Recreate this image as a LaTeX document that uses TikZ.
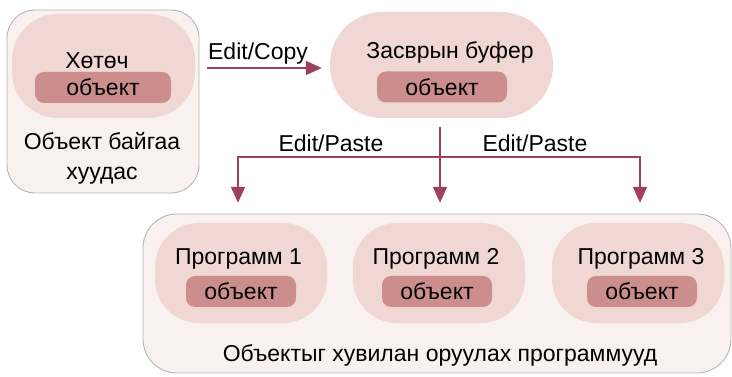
\documentclass[tikz,border=0pt]{standalone}
\usepackage{fontspec}
\setmainfont{Liberation Sans}
\usetikzlibrary{arrows.meta}

\newcommand{\lblfont}{\fontsize{23}{30}\selectfont}

\begin{document}
\begin{tikzpicture}[x=1pt, y=-1pt,
		page/.style={draw=edgecol, fill=pagecol, line width=0.9pt, rounded corners=#1, inner sep=0pt},
		blob/.style={fill=blobcol, rounded corners=#1, inner sep=0pt},
		objbar/.style={fill=barcol, rounded corners=9pt, minimum width=#1, minimum height=31pt, inner sep=0pt, font=\lblfont},
		lbl/.style={inner sep=0pt, font=\lblfont},
		flow/.style={draw=arrcol, line width=1.5pt},
		tip/.style={flow, -{Triangle[length=16pt, width=14pt]}}
		]
		
		% ==========================================
		% COLOURS
		% ==========================================
		\definecolor{pagecol}{HTML}{F8F1EF}
		\definecolor{edgecol}{HTML}{B5B5B5}
		\definecolor{blobcol}{HTML}{F0D7D3}
		\definecolor{barcol}{HTML}{CC8E8D}
		\definecolor{arrcol}{HTML}{9E3F5F}
		
		\useasboundingbox (0,0) rectangle (732,377);
		
		% ==========================================
		% SOURCE PAGE (left)
		% ==========================================
		\node[page=28pt, minimum width=192pt, minimum height=183pt] (srcpage) at (103,101.5) {};
		\node[blob=46pt, minimum width=183pt, minimum height=104pt] (srcblob) at (103.5,66) {};
		\node[lbl] (srcname) at (97,61) {Хөтөч};
		\node[objbar=136pt] (srcobj) at (103,87.5) {объект};
		\node[lbl, align=center] (srccap) at (102,158) {Объект байгаа\\хуудас};
		
		% ==========================================
		% CLIPBOARD
		% ==========================================
		\node[blob=52pt, minimum width=223pt, minimum height=106pt] (bufblob) at (441.5,65) {};
		\node[lbl] (bufname) at (450,52) {Засврын буфер};
		\node[objbar=130pt] (bufobj) at (442,87) {объект};
		
		% Copy arrow
		\node[lbl] (copylbl) at (258,54) {Edit/Copy};
		\draw[tip] ([xshift=8pt, yshift=-3pt]srcpage.east |- bufblob.west) -- ([xshift=-8pt, yshift=-3pt]bufblob.west);
		
		% ==========================================
		% TARGET PROGRAMS (bottom)
		% ==========================================
		\node[page=34pt, minimum width=588pt, minimum height=159pt] (progpage) at (437,293.5) {};
		\foreach \i/\px/\tx/\bx in {1/241/238.5/241, 2/439/436/437, 3/638/641/642} {
			\node[blob=44pt, minimum width=172pt, minimum height=100pt] (prog\i) at (\px,273) {};
			\node[lbl] (progname\i) at (\tx,259) {Программ \i};
			\node[objbar=110pt] (progobj\i) at (\bx,291.5) {объект};
		}
		\node[lbl] (progcap) at (440,355) {Объектыг хувилан оруулах программууд};
		
		% ==========================================
		% PASTE ARROWS
		% ==========================================
		\coordinate (fork) at (440,157);
		\coordinate (forktop) at ([yshift=-9pt]fork |- bufblob.south);
		\draw[flow] (forktop) -- (fork);
		\draw[tip] (fork) -- ([yshift=20pt]fork |- prog2.north);
		\draw[tip] (fork) -| ([yshift=20pt, xshift=-3pt]prog1.north);
		\draw[tip] (fork) -| ([yshift=20pt, xshift=2pt]prog3.north);
		\node[lbl] (pastelbl1) at (331,143) {Edit/Paste};
		\node[lbl] (pastelbl2) at (535,143) {Edit/Paste};
		
	\end{tikzpicture}
\end{document}
